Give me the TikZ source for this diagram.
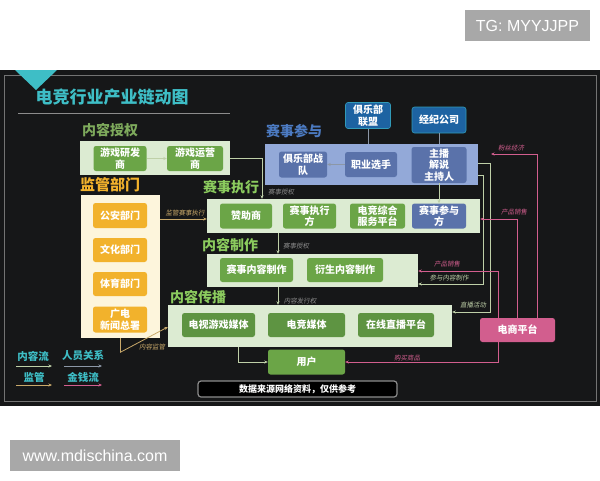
\documentclass[tikz,border=0pt]{standalone}
\usepackage{fontspec}
\setmainfont{Liberation Sans}
\newfontfamily\cjk[AutoFakeSlant=0.18]{Noto Sans CJK SC}
\usetikzlibrary{arrows.meta}
\definecolor{panel}{HTML}{161718}
\definecolor{lgreen}{HTML}{DCEBD2}
\definecolor{mgreen}{HTML}{6BA547}
\definecolor{dgreen}{HTML}{5E9442}
\definecolor{lblue}{HTML}{93A9D8}
\definecolor{mblue}{HTML}{5A72AA}
\definecolor{dblue}{HTML}{1D63A2}
\definecolor{goldc}{HTML}{F2B22C}
\definecolor{cream}{HTML}{FDF5DC}
\definecolor{pinkc}{HTML}{D25E8E}
\definecolor{tealc}{HTML}{3EBEC6}
\definecolor{tgreen}{HTML}{8BCB5E}
\definecolor{oliveg}{HTML}{7EAA5C}
\definecolor{btitle}{HTML}{4C7BC2}
\definecolor{flowc}{HTML}{BFD0A8}
\definecolor{relc}{HTML}{8C97A6}
\definecolor{supc}{HTML}{C9A96A}
\definecolor{wm}{HTML}{A8A8A8}
\tikzset{
  tip/.style={-{Stealth[length=3.5pt,width=3pt]}},
  nbox/.style={rounded corners=2.5pt, inner sep=0pt, align=center, text=white,
     font=\cjk\bfseries\itshape\fontsize{10}{11.5}\selectfont},
  gn/.style={nbox, fill=mgreen},
  dn/.style={nbox, fill=dgreen},
  bn/.style={nbox, fill=mblue},
  cn/.style={nbox, fill=dblue, draw=tealc!60!dblue, line width=0.6pt},
  on/.style={nbox, fill=goldc},
  pn/.style={nbox, fill=pinkc},
  area/.style={inner sep=0pt},
  sect/.style={anchor=west, inner sep=0pt, font=\cjk\bfseries\fontsize{14}{16}\selectfont},
  lbl/.style={inner sep=0pt, font=\cjk\itshape\fontsize{6.5}{7}\selectfont},
  leg/.style={inner sep=0pt, text=tealc, font=\cjk\bfseries\itshape\fontsize{10.5}{12}\selectfont},
  flow/.style={draw=flowc, line width=0.7pt},
  rel/.style={draw=relc, line width=0.7pt},
  sup/.style={draw=supc, line width=0.8pt},
  money/.style={draw=pinkc, line width=0.8pt},
  wmk/.style={fill=wm, text=white, inner sep=0pt, font=\fontsize{16}{18}\selectfont}
}
\begin{document}
\begin{tikzpicture}[x=1pt,y=-1pt]
\useasboundingbox (0,0) rectangle (600,480);
\fill[white] (0,0) rectangle (600,480);
% watermarks
\node[wmk, minimum width=125, minimum height=31] (tg) at (527.5,25.5) {TG: MYYJJPP};
\node[wmk, minimum width=170, minimum height=31] (www) at (95,455.5) {www.mdischina.com};
% dark panel
\fill[panel] (0,70) rectangle (600,406);
\draw[black!55, line width=0.8pt] (4,75) rectangle (596,401);
\fill[tealc] (15,70) -- (57,70) -- (36,90) -- cycle;
\node[inner sep=0pt, text=tealc, font=\cjk\bfseries\fontsize{17}{19}\selectfont] (title) at (112,97) {电竞行业产业链动图};
\draw[black!45, line width=0.8pt] (18,113) -- (230,113);

% section titles
\node[sect, text=oliveg] (tA) at (82,130) {内容授权};
\node[sect, text=btitle] (tB) at (266,131) {赛事参与};
\node[sect, text=tgreen] (tC) at (203,187) {赛事执行};
\node[sect, text=goldc, font=\cjk\bfseries\fontsize{15}{17}\selectfont] (tD) at (80,185) {监管部门};
\node[sect, text=tgreen] (tE) at (202,245) {内容制作};
\node[sect, text=tgreen] (tF) at (170,297) {内容传播};

% areas
\node[area, fill=lgreen, minimum width=150, minimum height=34] (A) at (155,158) {};
\node[area, fill=lblue, minimum width=213, minimum height=41] (B) at (371.5,164.5) {};
\node[area, fill=lgreen, minimum width=273, minimum height=34] (C) at (343.5,216) {};
\node[area, fill=cream, minimum width=79, minimum height=143] (D) at (120.5,266.5) {};
\node[area, fill=lgreen, minimum width=211, minimum height=33] (E) at (312.5,270.5) {};
\node[area, fill=lgreen, minimum width=284, minimum height=42] (F) at (310,326) {};

% 内容授权
\node[gn, minimum width=53, minimum height=25] (n1) at (120,158.5) {游戏研发\\商};
\node[gn, minimum width=56, minimum height=25] (n2) at (195,158.5) {游戏运营\\商};
% 赛事参与
\node[bn, minimum width=48, minimum height=26] (b1) at (303,164.5) {俱乐部战\\队};
\node[bn, minimum width=52, minimum height=25] (b2) at (371,164.5) {职业选手};
\node[bn, minimum width=55, minimum height=36] (b3) at (439,165) {主播\\解说\\主持人};
\node[cn, minimum width=45, minimum height=26] (c1) at (368,115.5) {俱乐部\\联盟};
\node[cn, minimum width=54, minimum height=26] (c2) at (439,120) {经纪公司};
% 赛事执行
\node[gn, minimum width=52, minimum height=25] (d1) at (246,216) {赞助商};
\node[gn, minimum width=53, minimum height=25] (d2) at (309.5,216) {赛事执行\\方};
\node[gn, minimum width=55, minimum height=25] (d3) at (377.5,216) {电竞综合\\服务平台};
\node[bn, minimum width=54, minimum height=25] (d4) at (439,216) {赛事参与\\方};
% 监管部门
\node[on, minimum width=54, minimum height=25] (e1) at (120,215.5) {公安部门};
\node[on, minimum width=54, minimum height=24] (e2) at (120,250) {文化部门};
\node[on, minimum width=54, minimum height=24] (e3) at (120,284) {体育部门};
\node[on, minimum width=54, minimum height=26] (e4) at (120,319.5) {广电\\新闻总署};
% 内容制作
\node[gn, minimum width=73, minimum height=24] (f1) at (256.5,270) {赛事内容制作};
\node[gn, minimum width=76, minimum height=24] (f2) at (345,270) {衍生内容制作};
% 内容传播
\node[dn, minimum width=73, minimum height=24] (g1) at (218.5,325) {电视游戏媒体};
\node[dn, minimum width=77, minimum height=24] (g2) at (306.5,325) {电竞媒体};
\node[dn, minimum width=76, minimum height=24] (g3) at (396,325) {在线直播平台};
\node[gn, minimum width=77, minimum height=25] (h) at (306.5,362) {用户};
% 电商平台
\node[pn, minimum width=75, minimum height=24] (p) at (517.5,330) {电商平台};

% connectors: content flow
\draw[flow,tip] (n1) -- (n2);
\draw[flow,tip] (A.east) -| (262,0 |- C.north);
\draw[flow,tip] (b3) -- (d4);
\draw[flow,tip] (278,0 |- C.south) -- (278,0 |- E.north);
\draw[flow,tip] (278,0 |- E.south) -- (278,0 |- F.north);
\draw[flow,tip] (238,0 |- F.south) |- (h.west);
\draw[flow,tip] (B.east |- 0,175) -- (483,175) |- (E.east |- 0,284);
\draw[flow,tip] (B.east |- 0,163) -- (490,163) |- (F.east |- 0,312);
% person relations
\draw[rel] (c1.south) -- (c1.south |- B.north);
\draw[rel] (c2.south) -- (c2.south |- B.north);
\draw[rel,tip] (b2) -- (b1);
% supervision
\draw[sup,tip] (D.east |- 0,219) -- (C.west |- 0,219);
\draw[sup,tip] (D.south) -- ++(0,14) -- (F.west |- 0,327);
% money
\coordinate (fan) at (491,154);
\draw[money,tip] (537,0 |- p.north) |- (fan);
\draw[money,tip] (517,0 |- p.north) |- (C.east |- 0,219);
\draw[money,tip] (498,0 |- p.north) |- (E.east |- 0,271);
\draw[money,tip] (498,0 |- p.south) |- (h.east);

% labels
\node[lbl, text=black!45] (l1) at (281,192) {赛事授权};
\node[lbl, text=black!45] (l2) at (296,246) {赛事授权};
\node[lbl, text=black!45] (l3) at (300,301) {内容发行权};
\node[lbl, text=supc] (l4) at (185,213) {监管赛事执行};
\node[lbl, text=supc] (l5) at (152,347) {内容监管};
\node[lbl, text=pinkc] (l6) at (511,148) {粉丝经济};
\node[lbl, text=pinkc] (l7) at (514,212) {产品销售};
\node[lbl, text=pinkc] (l8) at (447,264) {产品销售};
\node[lbl, text=pinkc] (l9) at (407,358) {购买商品};
\node[lbl, text=flowc] (l10) at (449,278) {参与内容制作};
\node[lbl, text=flowc] (l11) at (473,305) {直播活动};

% legend
\node[leg] (k1) at (33,356) {内容流};
\node[leg] (k2) at (83,356) {人员关系};
\node[leg] (k3) at (34,377) {监管};
\node[leg] (k4) at (83,377) {金钱流};
\coordinate (k1a) at (16,366); \coordinate (k1b) at (52,366);
\coordinate (k2a) at (64,366); \coordinate (k2b) at (102,366);
\coordinate (k3a) at (16,385); \coordinate (k3b) at (52,385);
\coordinate (k4a) at (64,385); \coordinate (k4b) at (102,385);
\draw[flow,tip] (k1a) -- (k1b);
\draw[rel,tip] (k2a) -- (k2b);
\draw[sup,tip] (k3a) -- (k3b);
\draw[money,tip] (k4a) -- (k4b);

% source bar
\node[draw=black!45, fill=black, line width=1.2pt, rounded corners=3pt, minimum width=199, minimum height=16, inner sep=0pt, text=white,
  font=\cjk\bfseries\itshape\fontsize{9}{10}\selectfont] (src) at (297.5,389) {数据来源网络资料，仅供参考};
\end{tikzpicture}
\end{document}
